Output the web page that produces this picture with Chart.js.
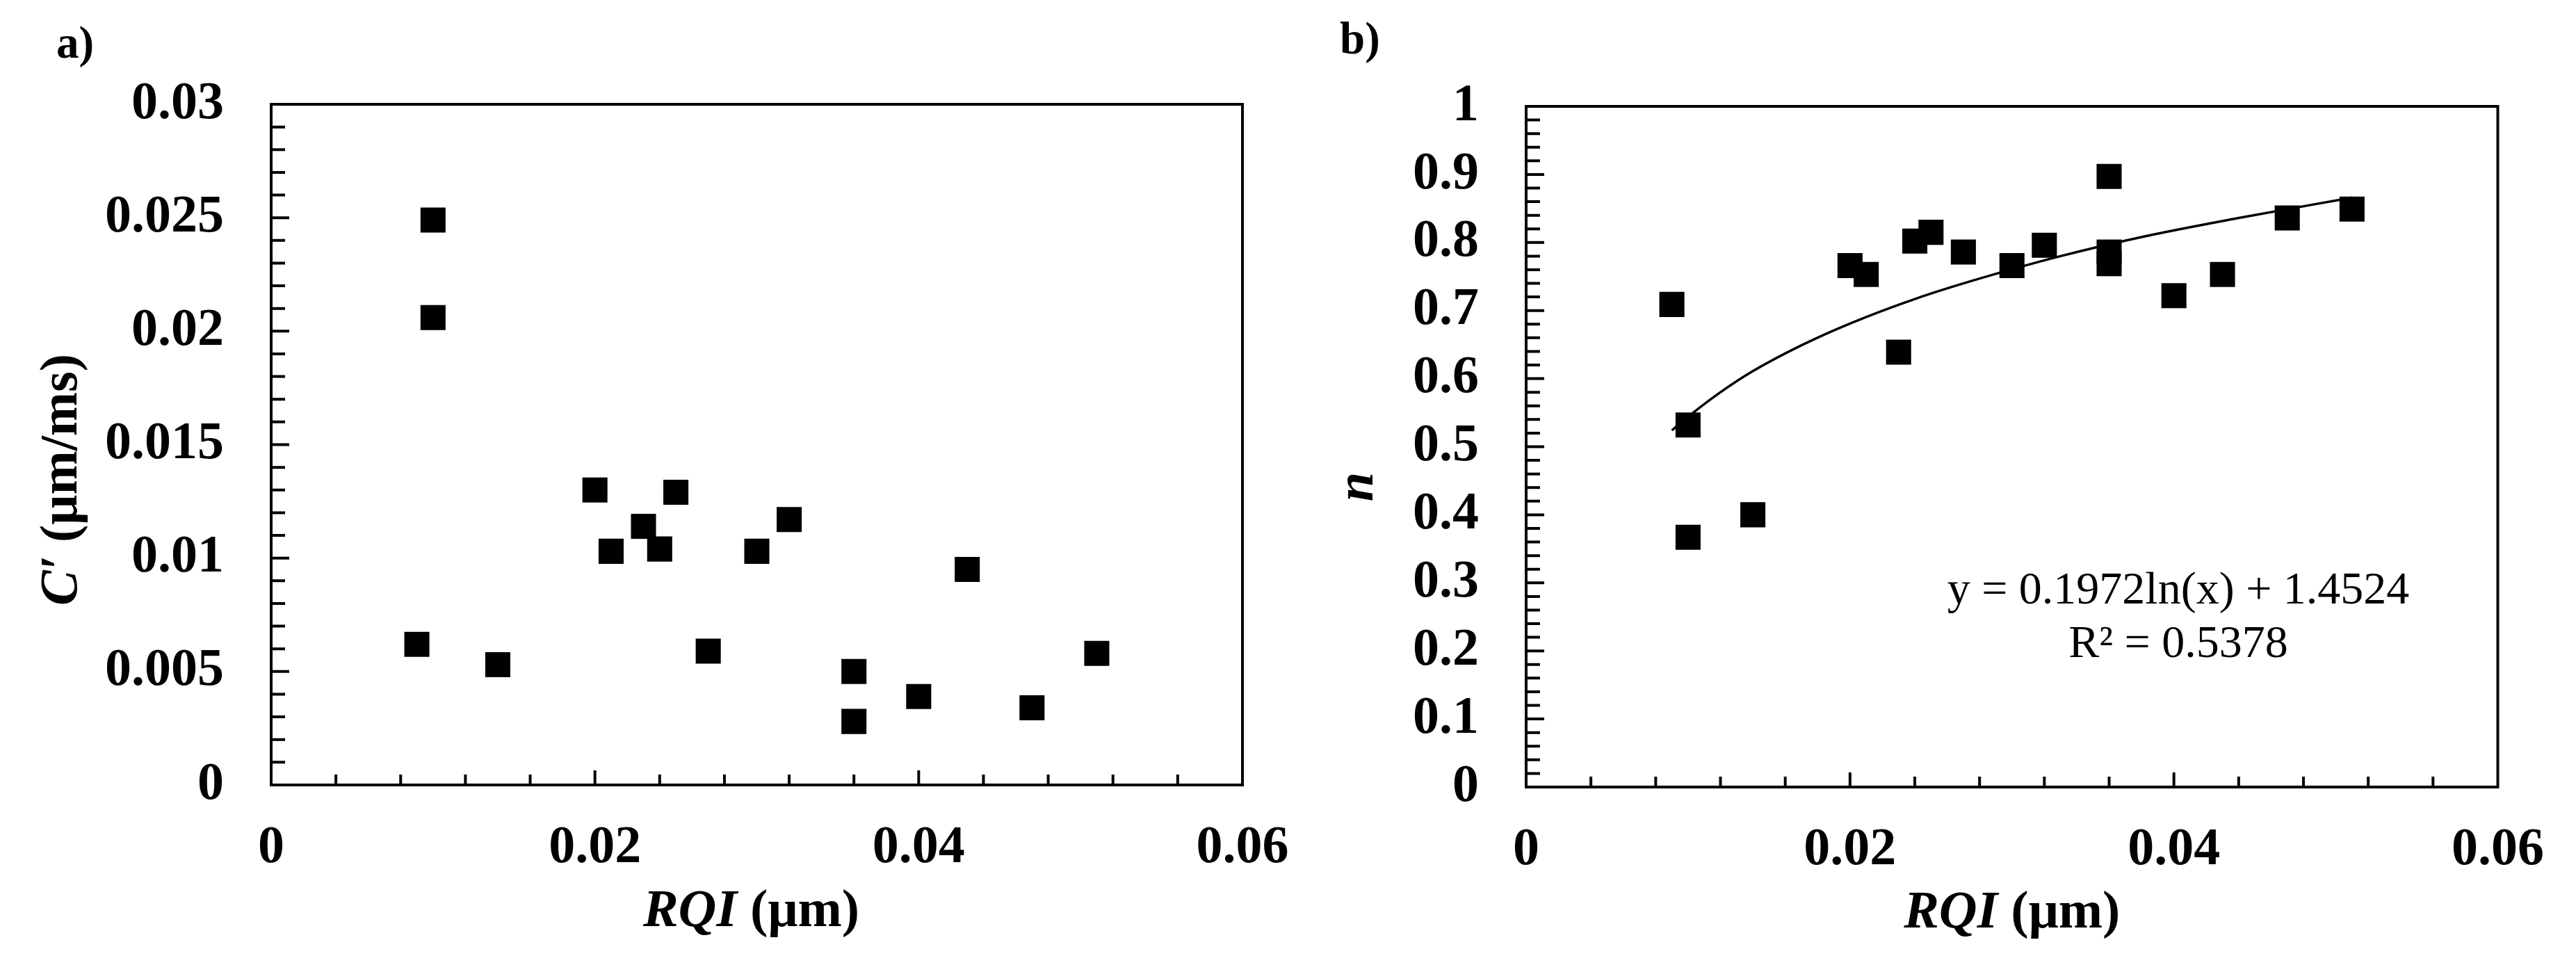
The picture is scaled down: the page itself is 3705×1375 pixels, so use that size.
<!DOCTYPE html>
<html>
<head>
<meta charset="utf-8">
<script src="https://cdn.jsdelivr.net/npm/chart.js@4"></script>
<style>
body { margin: 0; background: #fff; }
#wrap { position: relative; width: 3705px; height: 1375px; background: #fff; }
canvas { position: absolute; top: 0; }
</style>
</head>
<body>
<div id="wrap">
  <canvas id="chartA" width="1900" height="1375" style="left:0px"></canvas>
  <canvas id="chartB" width="1855" height="1375" style="left:1850px"></canvas>
</div>
<script>
// ---- data ----
const rqiA = [0.009, 0.010, 0.010, 0.014, 0.020, 0.021, 0.023, 0.024, 0.025, 0.027, 0.030, 0.032, 0.036, 0.036, 0.040, 0.043, 0.047, 0.051]
const cPrime = [0.0062, 0.0249, 0.0206, 0.0053, 0.0130, 0.0103, 0.0114, 0.0104, 0.0129, 0.0059, 0.0103, 0.0117, 0.0050, 0.0028, 0.0039, 0.0095, 0.0034, 0.0058]

const rqiB = [0.009, 0.010, 0.010, 0.014, 0.020, 0.021, 0.023, 0.024, 0.025, 0.027, 0.030, 0.032, 0.036, 0.036, 0.036, 0.040, 0.043, 0.047, 0.051]
const nValues = [0.709, 0.532, 0.367, 0.400, 0.766, 0.753, 0.639, 0.802, 0.815, 0.786, 0.766, 0.796, 0.897, 0.786, 0.769, 0.722, 0.753, 0.836, 0.849]

// log trend line (y = 0.1972ln(x) + 1.4524), sampled off the plotted curve
const trendX = [0.009, 0.010, 0.012, 0.014, 0.017, 0.020, 0.024, 0.028, 0.033, 0.038, 0.044, 0.051]
const trendY = [0.524, 0.544, 0.580, 0.611, 0.649, 0.681, 0.717, 0.747, 0.780, 0.808, 0.836, 0.866]

const xTicks = [0, 0.02, 0.04, 0.06]
const yTicksA = [0, 0.005, 0.01, 0.015, 0.02, 0.025, 0.03]
const yTicksB = [0, 0.1, 0.2, 0.3, 0.4, 0.5, 0.6, 0.7, 0.8, 0.9, 1]

const equationLines = ['y = 0.1972ln(x) + 1.4524', 'R\u00B2 = 0.5378']

const FONT = "'Liberation Serif', 'Times New Roman', serif"
const tickFont = { family: FONT, size: 76, weight: 'bold' }

const fmt = v => String(+Number(v).toFixed(4))

// box around the plot area + inward minor/major tick marks
const frameTicks = {
    id: 'frameTicks',
    beforeDatasetsDraw(chart, args, opts) {
        const { ctx, chartArea: a } = chart
        const x = chart.scales.x
        const y = chart.scales.y
        ctx.save()
        ctx.strokeStyle = '#000'
        ctx.lineWidth = 4
        ctx.strokeRect(a.left, a.top, a.right - a.left, a.bottom - a.top)
        ctx.beginPath()
        const nx = Math.round((x.max - x.min) / opts.xStep)
        for (let i = 1; i < nx; i++) {
            const px = x.getPixelForValue(x.min + i * opts.xStep)
            const len = i % opts.xEvery === 0 ? 21 : 15
            ctx.moveTo(px, a.bottom)
            ctx.lineTo(px, a.bottom - len)
        }
        const ny = Math.round((y.max - y.min) / opts.yStep)
        for (let i = 1; i < ny; i++) {
            const py = y.getPixelForValue(y.min + i * opts.yStep)
            const len = i % opts.yEvery === 0 ? 26 : 20
            ctx.moveTo(a.left, py)
            ctx.lineTo(a.left + len, py)
        }
        ctx.stroke()
        ctx.restore()
    }
}

function drawParts(ctx, parts, cx, cy, rot) {
    ctx.save()
    ctx.translate(cx, cy)
    ctx.rotate(rot)
    ctx.textBaseline = 'alphabetic'
    ctx.textAlign = 'left'
    ctx.fillStyle = '#000'
    let w = 0
    parts.forEach(p => { ctx.font = p.font; w += ctx.measureText(p.text).width })
    let xx = -w / 2
    parts.forEach(p => {
        ctx.font = p.font
        ctx.fillText(p.text, xx, 0)
        xx += ctx.measureText(p.text).width
    })
    ctx.restore()
}

// axis titles with mixed italic/upright parts, panel letter, notes
const panelText = {
    id: 'panelText',
    afterDraw(chart, args, o) {
        const { ctx, chartArea: a } = chart
        ctx.save()
        ctx.fillStyle = '#000'
        ctx.font = 'bold 65px ' + FONT
        ctx.textAlign = 'left'
        ctx.textBaseline = 'alphabetic'
        ctx.fillText(o.label, o.labelX, o.labelY)
        ctx.restore()

        drawParts(ctx, o.xTitle, (a.left + a.right) / 2 + o.xTitleDx, o.xTitleY, 0)
        drawParts(ctx, o.yTitle, o.yTitleX, o.yTitleY, -Math.PI / 2)

        if (o.notes) {
            ctx.save()
            ctx.fillStyle = '#000'
            ctx.font = '66px ' + FONT
            ctx.textAlign = 'center'
            ctx.textBaseline = 'alphabetic'
            o.notes.forEach((t, i) => ctx.fillText(t, o.notesX, o.notesY + i * 77))
            ctx.restore()
        }
    }
}

function buildOptions(o) {
    return {
        responsive: false,
        animation: false,
        events: [],
        layout: { padding: o.pad },
        plugins: {
            legend: { display: false },
            tooltip: { enabled: false },
            frameTicks: o.frame,
            panelText: o.text
        },
        scales: {
            x: {
                type: 'linear',
                min: 0,
                max: 0.06,
                grid: { display: false, drawTicks: false },
                border: { display: false },
                afterBuildTicks: s => { s.ticks = xTicks.map(v => ({ value: v })) },
                afterFit: s => { s.height = o.xHeight },
                ticks: { font: tickFont, color: '#000', padding: 46, maxRotation: 0, autoSkip: false, callback: fmt }
            },
            y: {
                type: 'linear',
                min: o.yMin,
                max: o.yMax,
                grid: { display: false, drawTicks: false },
                border: { display: false },
                afterBuildTicks: s => { s.ticks = o.yTicks.map(v => ({ value: v })) },
                afterFit: s => { s.width = o.yWidth },
                ticks: { font: tickFont, color: '#000', padding: 68, autoSkip: false, callback: fmt }
            }
        }
    }
}

const boldIt = 'italic bold 76px ' + FONT
const bold = 'bold 76px ' + FONT

new Chart(document.getElementById('chartA'), {
    type: 'scatter',
    data: {
        datasets: [{
            data: rqiA.map((v, i) => ({ x: v, y: cPrime[i] })),
            pointStyle: 'rect',
            pointRadius: 25.5,
            backgroundColor: '#000',
            borderWidth: 0
        }]
    },
    options: buildOptions({
        pad: { left: 0, top: 150, right: 113, bottom: 0 },
        xHeight: 246,
        yWidth: 390,
        yMin: 0, yMax: 0.03,
        yTicks: yTicksA,
        frame: { xStep: 0.004, xEvery: 5, yStep: 0.001, yEvery: 5 },
        text: {
            label: 'a)', labelX: 81, labelY: 83,
            xTitle: [{ text: 'RQI', font: boldIt }, { text: ' (\u03BCm)', font: bold }],
            xTitleY: 1332, xTitleDx: -8,
            yTitle: [{ text: 'C\u2032', font: boldIt }, { text: ' (\u03BCm/ms)', font: bold }],
            yTitleX: 110, yTitleY: 690
        }
    }),
    plugins: [frameTicks, panelText]
})

new Chart(document.getElementById('chartB'), {
    type: 'scatter',
    data: {
        datasets: [{
            data: rqiB.map((v, i) => ({ x: v, y: nValues[i] })),
            pointStyle: 'rect',
            pointRadius: 25.5,
            backgroundColor: '#000',
            borderWidth: 0
        }, {
            data: trendX.map((v, i) => ({ x: v, y: trendY[i] })),
            showLine: true,
            pointRadius: 0,
            borderColor: '#000',
            borderWidth: 3.5,
            cubicInterpolationMode: 'monotone'
        }]
    },
    options: buildOptions({
        pad: { left: 0, top: 153, right: 88, bottom: 0 },
        xHeight: 243,
        yWidth: 345,
        yMin: 0, yMax: 1,
        yTicks: yTicksB,
        frame: { xStep: 0.004, xEvery: 5, yStep: 0.02, yEvery: 5 },
        text: {
            label: 'b)', labelX: 77, labelY: 77,
            xTitle: [{ text: 'RQI', font: boldIt }, { text: ' (\u03BCm)', font: bold }],
            xTitleY: 1334, xTitleDx: 0,
            yTitle: [{ text: 'n', font: boldIt }],
            yTitleX: 124, yTitleY: 700,
            notes: equationLines, notesX: 1283, notesY: 868
        }
    }),
    plugins: [frameTicks, panelText]
})
</script>
</body>
</html>
